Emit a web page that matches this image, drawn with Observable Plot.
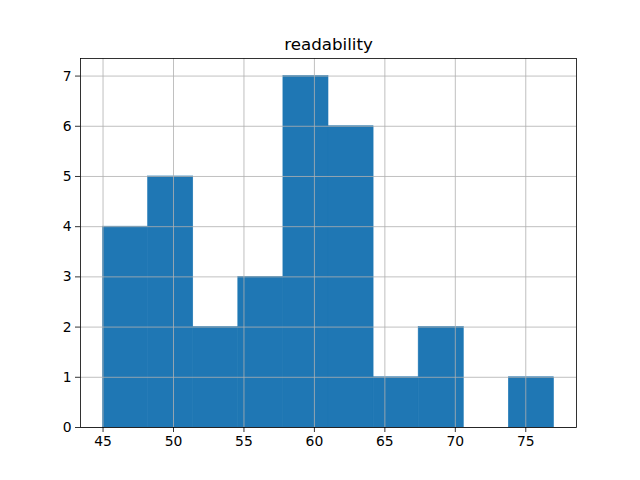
<!DOCTYPE html>
<html>
<head>
<meta charset="utf-8">
<script src="https://cdn.jsdelivr.net/npm/d3@7"></script>
<script src="https://cdn.jsdelivr.net/npm/@observablehq/plot@0.6"></script>
<style>
  html, body { margin: 0; padding: 0; background: white; }
  svg { display: block; }
</style>
</head>
<body>
<div id="chart"></div>
<script>
const title = "readability";
const binEdges = [45, 48.2, 51.4, 54.6, 57.8, 61, 64.2, 67.4, 70.6, 73.8, 77];
const counts = [4, 5, 2, 3, 7, 6, 1, 2, 0, 1];
const xTicks = [45, 50, 55, 60, 65, 70, 75];
const yTicks = [0, 1, 2, 3, 4, 5, 6, 7];

const bins = counts.map((c, i) => ({x1: binEdges[i], x2: binEdges[i + 1], y: c}));
const xMin = binEdges[0], xMax = binEdges[binEdges.length - 1];
const pad = (xMax - xMin) * 0.05;
const yMax = d3.max(counts) * 1.05;

const chart = Plot.plot({
  width: 640,
  height: 480,
  marginLeft: 80,
  marginRight: 64,
  marginTop: 58,
  marginBottom: 53,
  style: {fontFamily: "DejaVu Sans", fontSize: "13.9px", color: "black", background: "white"},
  x: {domain: [xMin - pad, xMax + pad]},
  y: {domain: [0, yMax]},
  marks: [
    Plot.rectY(bins, {x1: "x1", x2: "x2", y: "y", fill: "#1f77b4", stroke: "#1f77b4", strokeWidth: 0.6, inset: 0}),
    Plot.gridX(xTicks, {stroke: "#b0b0b0", strokeOpacity: 1, strokeWidth: 0.8}),
    Plot.gridY(yTicks, {stroke: "#b0b0b0", strokeOpacity: 1, strokeWidth: 0.8}),
    Plot.axisX(xTicks, {tickSize: 5, tickPadding: 4, label: null, stroke: "black", strokeWidth: 0.8, fontSize: 13.9, tickFormat: d3.format("d")}),
    Plot.axisY(yTicks, {tickSize: 5, tickPadding: 4, label: null, stroke: "black", strokeWidth: 0.8, fontSize: 13.9, tickFormat: d3.format("d")}),
    Plot.frame({stroke: "black", strokeWidth: 0.8}),
    Plot.text([title], {frameAnchor: "top", dy: -9, lineAnchor: "bottom", fontSize: 16.7, fill: "black"})
  ]
});
document.getElementById("chart").appendChild(chart);
</script>
</body>
</html>
